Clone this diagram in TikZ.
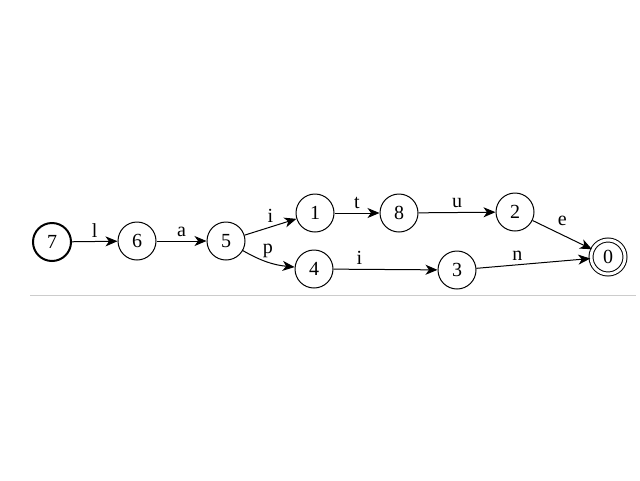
\documentclass[tikz,border=0pt]{standalone}
\usepackage{fontspec}
\setmainfont{Liberation Serif}
\usetikzlibrary{arrows.meta,automata}

\begin{document}
\begin{tikzpicture}[x=1pt,y=-1pt,->,>={Stealth[length=12pt,width=10pt,inset=3.5pt]},
                    line width=1pt,font=\fontsize{20}{24}\selectfont]
  \tikzstyle{every state}=[fill=white,text=black,minimum size=38pt,inner sep=0pt,line width=1pt]
  \tikzstyle{every edge}=[draw,line width=1pt]
  \tikzstyle{sym}=[above,inner sep=4pt]

  \useasboundingbox (0,0) rectangle (640,480);
  \draw[-,black!20] (30,295) -- (636,295);

  \node[state,line width=2pt] (q7) at (52,242)  {7};
  \node[state]                (q6) at (137,241) {6};
  \node[state]                (q5) at (226,241) {5};
  \node[state]                (q1) at (315,213) {1};
  \node[state]                (q4) at (314,269) {4};
  \node[state]                (q8) at (399,213) {8};
  \node[state]                (q3) at (457,270) {3};
  \node[state]                (q2) at (515,212) {2};
  \node[state,accepting,minimum size=34pt,double distance=3pt] (q0) at (608,257) {0};

  \path
(q7) edge                node[sym] {l} (q6)
(q6) edge                node[sym] {a} (q5)
(q5) edge                node[sym] {i} (q1)
(q5) edge [bend right=12] node[sym] {p} (q4)
(q1) edge                node[sym] {t} (q8)
(q8) edge                node[sym] {u} (q2)
(q4) edge                node[sym,pos=0.25] {i} (q3)
(q2) edge                node[sym,yshift=5pt] {e} (q0)
(q3) edge                node[sym,pos=0.36] {n} (q0);
\end{tikzpicture}
\end{document}
